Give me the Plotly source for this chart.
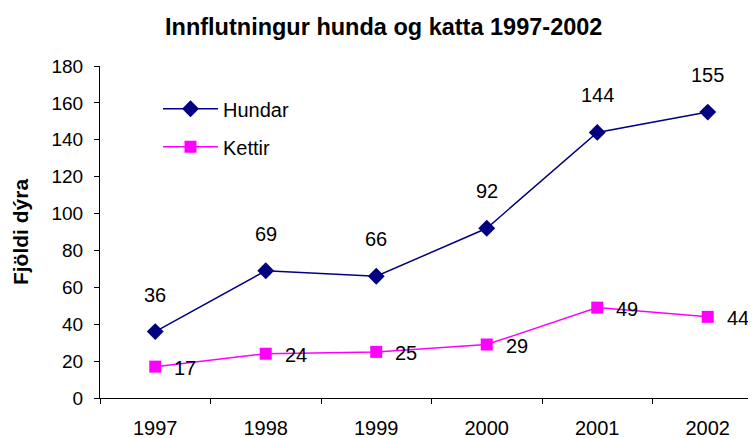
import plotly.graph_objects as go

years = ["1997", "1998", "1999", "2000", "2001", "2002"]
hundar = [36, 69, 66, 92, 144, 155]
kettir = [17, 24, 25, 29, 49, 44]
y_ticks = [0, 20, 40, 60, 80, 100, 120, 140, 160, 180]

FONT = "Liberation Sans, Arial, sans-serif"
NAVY = "#000080"
MAGENTA = "#FF00FF"

fig = go.Figure()
fig.add_trace(go.Scatter(
    x=years, y=hundar, name="Hundar", mode="lines+markers", legendgroup="h",
    line=dict(color=NAVY, width=1.5),
    marker=dict(symbol="diamond", size=13, color=NAVY),
))
fig.add_trace(go.Scatter(
    x=years, y=kettir, name="Kettir", mode="lines+markers", legendgroup="k",
    line=dict(color=MAGENTA, width=1.5),
    marker=dict(symbol="square", size=12, color=MAGENTA),
))

for i, yv in enumerate(hundar):
    fig.add_annotation(x=i, y=yv, xref="x", yref="y", text=str(yv), showarrow=False,
                       yshift=37, font=dict(family=FONT, size=20, color="black"))
for i, yv in enumerate(kettir):
    fig.add_annotation(x=i, y=yv, xref="x", yref="y", text=str(yv), showarrow=False,
                       xanchor="left", xshift=17, yshift=-1,
                       font=dict(family=FONT, size=20, color="black"))

fig.update_layout(
    width=756, height=438,
    margin=dict(l=92, r=1, t=58, b=48),
    paper_bgcolor="white", plot_bgcolor="white",
    font=dict(family=FONT, size=19, color="black"),
    title=dict(text="<b>Innflutningur hunda og katta 1997-2002</b>",
               x=0.497, xref="container", xanchor="center",
               y=0.957, yref="container", yanchor="middle",
               font=dict(family=FONT, size=23.5, color="black")),
    showlegend=True,
    legend=dict(x=0.0875, y=0.93, xanchor="left", yanchor="top",
                bgcolor="rgba(0,0,0,0)", tracegroupgap=9, itemwidth=55,
                font=dict(family=FONT, size=20, color="black")),
    xaxis=dict(type="category", range=[-0.5, 5.5], showgrid=False,
               showline=True, linecolor="black", linewidth=1,
               ticks="outside", ticklen=5, tickcolor="black", tickson="boundaries",
               ticklabelstandoff=12,
               tickfont=dict(family=FONT, size=20, color="black")),
    yaxis=dict(range=[0, 180], tickvals=y_ticks, showgrid=False, zeroline=False,
               showline=True, linecolor="black", linewidth=1,
               ticks="outside", ticklen=5, tickcolor="black",
               ticklabelstandoff=7,
               tickfont=dict(family=FONT, size=19, color="black"),
               title=dict(text="<b>Fjöldi dýra</b>", standoff=17,
                          font=dict(family=FONT, size=21, color="black"))),
)

fig.write_html("out.html")
